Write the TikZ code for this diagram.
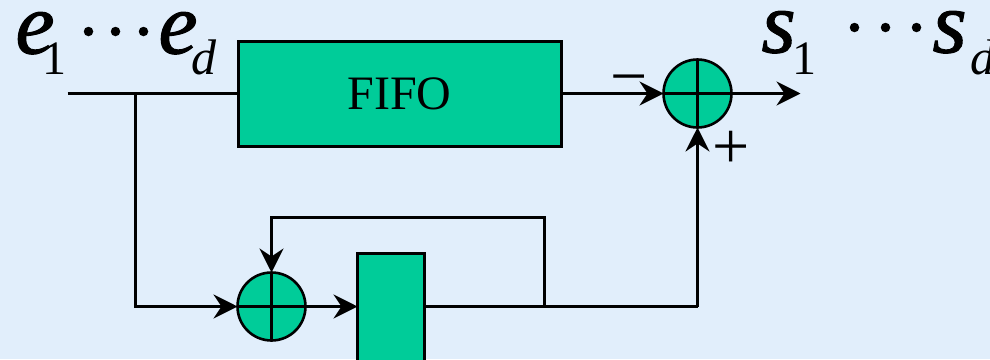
\documentclass[tikz,border=0pt]{standalone}
\usepackage{fontspec}
\setmainfont{Liberation Serif}
\newfontfamily\heavyital[FakeBold=1.2]{Liberation Serif Italic}
\usetikzlibrary{arrows.meta}
\definecolor{bgblue}{HTML}{E1EEFB}
\definecolor{boxgreen}{HTML}{00CC99}
\tikzset{
  x=1pt,y=-1pt,
  boxnode/.style={draw=black,line width=3pt,fill=boxgreen,inner sep=0pt,outer sep=0pt,minimum width=#1},
  sumnode/.style={circle,draw=black,line width=2.6pt,fill=boxgreen,inner sep=0pt,outer sep=0pt,minimum size=68pt},
  wire/.style={draw=black,line width=3pt},
  arrowwire/.style={wire,-{Stealth[length=24pt,width=24pt,inset=8pt]}},
  cross/.style={draw=black,line width=2.7pt},
  big/.style={inner sep=0pt,outer sep=0pt,anchor=base west,font=\fontsize{88}{88}\selectfont\heavyital},
  subnum/.style={inner sep=0pt,outer sep=0pt,anchor=base west,font=\fontsize{48}{48}\selectfont},
  subvar/.style={inner sep=0pt,outer sep=0pt,anchor=base west,font=\fontsize{50}{50}\selectfont\itshape},
  dotmark/.style={circle,fill=black,inner sep=0pt,outer sep=0pt,minimum size=9.5pt},
  signlabel/.style={inner sep=0pt,outer sep=0pt,font=\fontsize{66}{66}\selectfont},
}
\begin{document}
\begin{tikzpicture}
\useasboundingbox (0,0) rectangle (990,359);
\clip (0,0) rectangle (990,359);
\fill[bgblue] (0,0) rectangle (990,359);
\begin{scope}[shift={(0.5,0.5)}]
% nodes
\node[boxnode=323pt,minimum height=105pt,anchor=north west,font=\fontsize{48}{48}\selectfont] (fifo) at (238,41) {\hspace{-1pt}\raisebox{-2pt}{FIFO}};
\node[sumnode] (sumA) at (697,93) {};
\node[sumnode] (sumB) at (271,306) {};
\node[boxnode=67pt,minimum height=130pt,anchor=north west] (reg) at (357,253) {};
\coordinate (start) at (67,93);
\coordinate (branch) at (135,93);
\coordinate (outEnd) at (800,93);
\coordinate (tap) at (544,306);
\coordinate (corner) at (697,306);
\coordinate (fbA) at (544,217);
\coordinate (fbB) at (271,217);
% connectors
\draw[wire] (start) -- (fifo.west |- start);
\draw[arrowwire] (branch) |- (sumB.west);
\draw[arrowwire] (fifo.east |- sumA) -- (sumA.west);
\draw[arrowwire] (sumA.east) -- (outEnd);
\draw[arrowwire] (sumB.east) -- (reg.west |- sumB);
\draw[wire] (reg.east |- sumB) -- (corner);
\draw[arrowwire] (corner) -- (sumA.south);
\draw[arrowwire] (tap) -- (fbA) -- (fbB) -- (sumB.north);
% crosses
\draw[cross] (sumA.north) -- (sumA.south);
\draw[cross] (sumA.west) -- (sumA.east);
\draw[cross] (sumB.north) -- (sumB.south);
\draw[cross] (sumB.west) -- (sumB.east);
% labels
\node[big] (e1) at (15,53) {e};
\node[subnum] (e1s) at (42,74) {1};
\node[dotmark] (d1) at (88,31) {};
\node[dotmark] (d2) at (115,31) {};
\node[dotmark] (d3) at (143,31) {};
\node[big] (e2) at (158,53) {e};
\node[subvar] (e2s) at (191,74) {d};
\node[big] (s1) at (761,52) {s};
\node[subnum] (s1s) at (792,74) {1};
\node[dotmark] (d4) at (854,27) {};
\node[dotmark] (d5) at (885,27) {};
\node[dotmark] (d6) at (916,27) {};
\node[big] (s2) at (932,52) {s};
\node[subvar] (s2s) at (970,74) {d};
\node[signlabel] (minus) at (629,86) {−};
\node[signlabel] (plus) at (731,149) {+};
\end{scope}
\end{tikzpicture}
\end{document}
